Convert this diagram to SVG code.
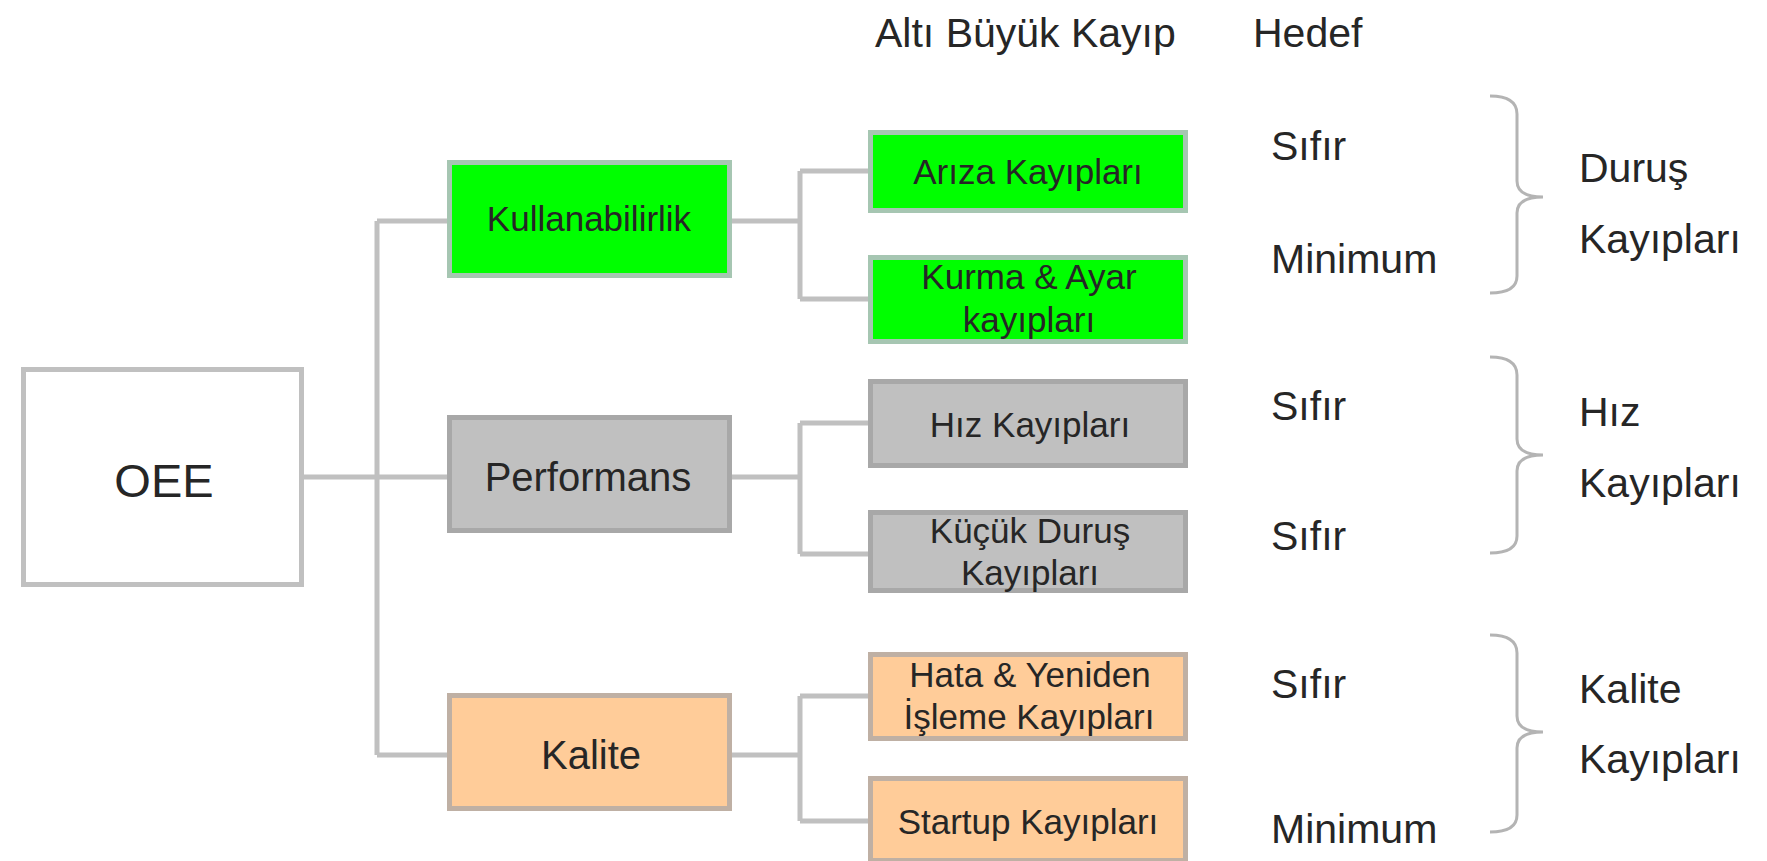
<svg xmlns="http://www.w3.org/2000/svg" width="1767" height="861" viewBox="0 0 1767 861">
<style>
text{font-family:"Liberation Sans",Arial,sans-serif;fill:#262626}
.l3{font-size:35px;text-anchor:middle}
.l2{font-size:40px;text-anchor:middle}
.hd{font-size:41px}
.rt{font-size:41px}
.line{stroke:#c0c0c0;stroke-width:5;fill:none}
.brace{stroke:#b4b4b4;stroke-width:3;fill:none}
.green{fill:#00ff00;stroke:#a6c6b2;stroke-width:5}
.gray{fill:#c0c0c0;stroke:#a8a8a8;stroke-width:5}
.orange{fill:#ffcc99;stroke:#bfb0a4;stroke-width:5}
</style>
<rect width="1767" height="861" fill="#ffffff"/>
<g id="connectors">
<path class="line" d="M304,477 H447 M377,221 V755 M377,221 H447 M377,755 H447"/>
<path class="line" d="M732,221 H800 M800,171 V299 M800,171 H868 M800,299 H868"/>
<path class="line" d="M732,477 H800 M800,423 V554 M800,423 H868 M800,554 H868"/>
<path class="line" d="M732,755 H800 M800,696 V821 M800,696 H868 M800,821 H868"/>
</g>
<g id="oee"><rect x="23.5" y="369.5" width="278" height="215" fill="#ffffff" stroke="#c0c0c0" stroke-width="5"/><text x="164" y="497" style="font-size:47px" text-anchor="middle">OEE</text></g>
<g id="kullanabilirlik"><rect class="green" x="449.5" y="162.5" width="280" height="113"/><text class="l2" x="589" y="231" style="font-size:35px">Kullanabilirlik</text></g>
<g id="performans"><rect class="gray" x="449.5" y="417.5" width="280" height="113"/><text class="l2" x="588" y="491">Performans</text></g>
<g id="kalite"><rect class="orange" x="449.5" y="695.5" width="280" height="113"/><text class="l2" x="591" y="769">Kalite</text></g>
<g id="ariza"><rect class="green" x="870.5" y="132.5" width="315" height="78"/><text class="l3" x="1028" y="184">Arıza Kayıpları</text></g>
<g id="kurma"><rect class="green" x="870.5" y="257.5" width="315" height="84"/><text class="l3" x="1029" y="289">Kurma &amp; Ayar</text><text class="l3" x="1029" y="332">kayıpları</text></g>
<g id="hiz"><rect class="gray" x="870.5" y="381.5" width="315" height="84"/><text class="l3" x="1030" y="437">Hız Kayıpları</text></g>
<g id="kucuk"><rect class="gray" x="870.5" y="512.5" width="315" height="78"/><text class="l3" x="1030" y="543">Küçük Duruş</text><text class="l3" x="1030" y="585">Kayıpları</text></g>
<g id="hata"><rect class="orange" x="870.5" y="654.5" width="315" height="84"/><text class="l3" x="1030" y="687">Hata &amp; Yeniden</text><text class="l3" x="1029" y="729">İşleme Kayıpları</text></g>
<g id="startup"><rect class="orange" x="870.5" y="778.5" width="315" height="82"/><text class="l3" x="1028" y="834">Startup Kayıpları</text></g>
<g id="header"><text class="hd" x="875" y="47">Altı Büyük Kayıp</text><text class="hd" x="1253" y="47">Hedef</text></g>
<g id="hedef-durus"><text class="rt" x="1271" y="160">Sıfır</text><text class="rt" x="1271" y="273">Minimum</text></g>
<g id="hedef-hiz"><text class="rt" x="1271" y="420">Sıfır</text><text class="rt" x="1271" y="550">Sıfır</text></g>
<g id="hedef-kalite"><text class="rt" x="1271" y="698">Sıfır</text><text class="rt" x="1271" y="843">Minimum</text></g>
<g id="brace-durus"><path class="brace" d="M1490,96 Q1517,96 1517,114 V181 Q1517,197 1543,197 Q1517,197 1517,213 V276 Q1517,293 1490,293"/><text class="rt" x="1579" y="182">Duruş</text><text class="rt" x="1579" y="253">Kayıpları</text></g>
<g id="brace-hiz"><path class="brace" d="M1490,357 Q1517,357 1517,375 V439 Q1517,455 1543,455 Q1517,455 1517,471 V536 Q1517,553 1490,553"/><text class="rt" x="1579" y="426">Hız</text><text class="rt" x="1579" y="497">Kayıpları</text></g>
<g id="brace-kalite"><path class="brace" d="M1490,635 Q1517,635 1517,653 V716 Q1517,732 1543,732 Q1517,732 1517,748 V815 Q1517,832 1490,832"/><text class="rt" x="1579" y="703">Kalite</text><text class="rt" x="1579" y="773">Kayıpları</text></g>
</svg>
